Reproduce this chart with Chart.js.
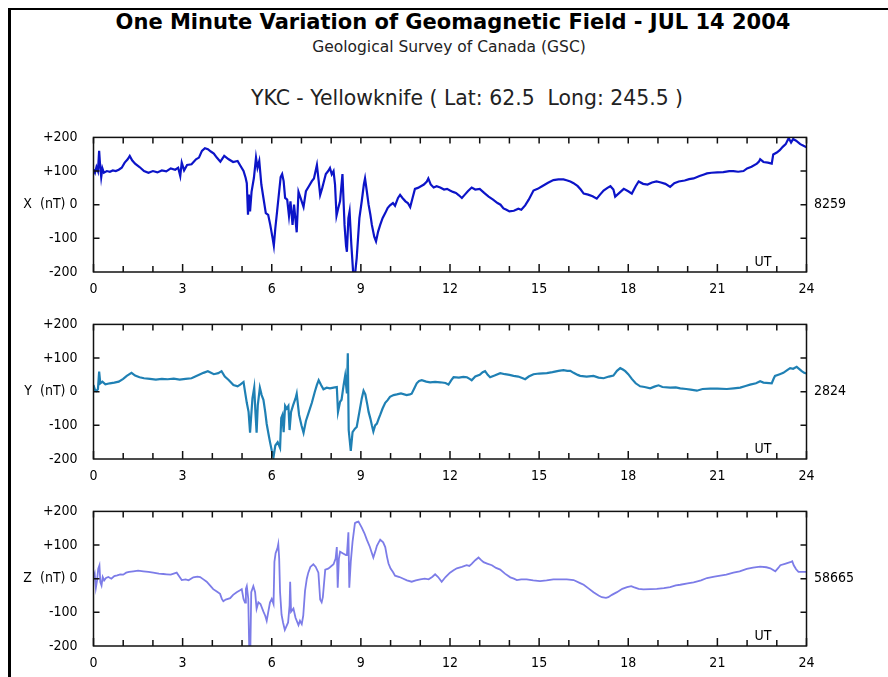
<!DOCTYPE html>
<html>
<head>
<meta charset="utf-8">
<script src="https://cdn.jsdelivr.net/npm/chart.js@4/dist/chart.umd.min.js"></script>
<style>
  html, body { margin: 0; padding: 0; background: #fff; }
  body { width: 888px; height: 677px; position: relative; overflow: hidden; font-family: "DejaVu Sans", sans-serif; }
  .frame { position: absolute; left: 8px; top: 8px; right: -10px; bottom: -10px; border-left: 3px solid #000; border-top: 2.5px solid #000; }
  .txt { position: absolute; white-space: nowrap; transform: translateX(-50%); color: #111; }
  #title { left: 453px; top: 10px; font-size: 21px; font-weight: bold; color: #000; }
  #agency { left: 449px; top: 38px; font-size: 15.5px; color: #222; }
  #station { left: 467px; top: 86px; font-size: 20.4px; color: #222; }
  canvas { position: absolute; left: 0; }
</style>
</head>
<body>
<div class="frame"></div>
<div class="txt" id="title">One Minute Variation of Geomagnetic Field - JUL 14 2004</div>
<div class="txt" id="agency">Geological Survey of Canada (GSC)</div>
<div class="txt" id="station">YKC - Yellowknife ( Lat: 62.5&nbsp; Long: 245.5 )</div>
<canvas id="panelX" width="888" height="189" style="top:113px"></canvas>
<canvas id="panelY" width="888" height="189" style="top:300px"></canvas>
<canvas id="panelZ" width="888" height="189" style="top:487px"></canvas>
<script>
// Hour labels along the UT axis
const hourTicks = [0, 3, 6, 9, 12, 15, 18, 21, 24];

// Baseline field values (nT) printed on the right of each panel
const baselines = { X: '8259', Y: '2824', Z: '58665' };

// X component: time (UT hours) and deviation from baseline (nT)
const xHours = [0.00,0.05,0.10,0.15,0.19,0.22,0.26,0.30,0.35,0.45,0.55,0.65,0.75,0.85,0.95,1.05,1.15,1.22,1.30,1.40,1.55,1.70,1.85,2.00,2.15,2.30,2.45,2.60,2.75,2.85,2.92,2.97,3.05,3.15,3.30,3.45,3.55,3.65,3.75,3.85,3.95,4.05,4.15,4.27,4.40,4.55,4.70,4.85,4.95,5.05,5.12,5.16,5.20,5.23,5.27,5.32,5.40,5.47,5.52,5.58,5.65,5.72,5.80,5.88,5.95,6.03,6.07,6.12,6.18,6.25,6.30,6.35,6.40,6.45,6.52,6.58,6.63,6.70,6.75,6.84,6.90,6.97,7.07,7.15,7.25,7.35,7.42,7.52,7.58,7.63,7.70,7.74,7.82,7.90,7.96,8.02,8.08,8.13,8.18,8.24,8.30,8.38,8.45,8.50,8.53,8.58,8.62,8.68,8.75,8.80,8.86,8.95,9.03,9.10,9.14,9.20,9.26,9.32,9.37,9.45,9.51,9.58,9.65,9.73,9.82,9.90,9.98,10.08,10.15,10.25,10.32,10.40,10.50,10.58,10.66,10.74,10.82,10.92,11.02,11.12,11.22,11.27,11.35,11.45,11.55,11.67,11.80,11.90,12.00,12.10,12.20,12.30,12.40,12.50,12.60,12.73,12.85,13.00,13.15,13.30,13.45,13.60,13.70,13.80,13.90,14.00,14.15,14.30,14.40,14.53,14.65,14.81,14.95,15.10,15.30,15.48,15.65,15.82,15.95,16.05,16.16,16.30,16.40,16.50,16.65,16.80,16.94,17.05,17.17,17.30,17.40,17.50,17.56,17.70,17.85,18.00,18.12,18.25,18.35,18.50,18.65,18.80,18.95,19.10,19.25,19.41,19.55,19.70,19.90,20.05,20.20,20.40,20.55,20.65,20.80,21.00,21.20,21.40,21.54,21.70,21.88,22.00,22.15,22.33,22.40,22.44,22.55,22.70,22.83,22.88,23.00,23.10,23.20,23.30,23.40,23.48,23.55,23.65,23.79,23.90,24.00];
const xField = [105,95,112,100,160,120,82,108,95,100,98,102,100,104,110,125,135,145,132,122,112,100,95,100,96,102,99,108,104,110,85,125,102,118,120,135,140,160,168,165,158,152,140,128,145,135,127,130,115,100,80,64,-30,30,-20,38,80,140,110,130,60,20,-25,-30,-60,-100,-122,-70,-20,40,82,91,70,20,15,-33,10,-60,0,-82,38,20,-7,40,55,70,78,118,70,29,50,64,91,100,109,90,100,60,-33,-10,11,91,-60,-122,-140,-40,-20,-120,-215,-210,-158,-40,11,60,78,40,0,-30,-60,-95,-109,-80,-60,-40,-25,-10,-2,5,-3,20,29,20,10,5,-7,20,47,50,55,60,69,78,60,51,55,51,45,47,42,38,35,28,20,30,40,51,45,47,35,24,15,5,0,-11,-15,-20,-18,-12,-15,-2,15,42,47,55,65,73,75,75,72,69,64,55,45,33,30,25,18,30,42,50,55,45,24,35,47,40,33,55,69,62,60,66,69,66,62,53,64,69,72,76,78,85,90,93,95,96,97,100,100,98,100,108,113,122,128,135,127,125,122,149,155,162,172,180,198,185,195,190,180,175,171];

// Y component: time (UT hours) and deviation from baseline (nT)
const yHours = [0.00,0.05,0.10,0.15,0.19,0.23,0.30,0.40,0.55,0.70,0.85,1.00,1.12,1.28,1.40,1.55,1.70,1.90,2.10,2.30,2.50,2.70,2.90,3.10,3.30,3.50,3.70,3.85,3.92,4.05,4.20,4.31,4.42,4.55,4.71,4.85,4.95,5.05,5.10,5.16,5.22,5.27,5.31,5.35,5.41,5.45,5.49,5.53,5.60,5.66,5.72,5.78,5.83,5.90,5.94,6.00,6.06,6.12,6.20,6.28,6.32,6.36,6.40,6.45,6.50,6.56,6.60,6.65,6.72,6.80,6.84,6.92,7.00,7.07,7.15,7.25,7.35,7.45,7.52,7.58,7.66,7.74,7.85,7.96,8.08,8.19,8.23,8.30,8.35,8.42,8.47,8.53,8.56,8.59,8.66,8.72,8.80,8.86,8.95,9.03,9.09,9.15,9.22,9.26,9.32,9.37,9.42,9.48,9.54,9.60,9.65,9.73,9.82,9.90,9.98,10.10,10.21,10.35,10.54,10.65,10.71,10.80,10.88,10.96,11.05,11.20,11.33,11.50,11.67,11.85,11.95,12.05,12.12,12.30,12.45,12.57,12.66,12.73,12.85,13.00,13.10,13.18,13.27,13.35,13.50,13.69,13.85,14.00,14.14,14.30,14.45,14.53,14.65,14.81,15.00,15.26,15.45,15.65,15.82,15.95,16.05,16.16,16.30,16.38,16.60,16.83,17.00,17.17,17.35,17.50,17.62,17.73,17.82,17.90,18.00,18.12,18.25,18.40,18.55,18.74,18.88,19.02,19.15,19.41,19.60,19.75,19.95,20.10,20.31,20.50,20.76,21.00,21.32,21.55,21.77,21.95,22.10,22.30,22.44,22.55,22.83,22.90,22.94,23.10,23.22,23.35,23.45,23.55,23.67,23.75,23.84,23.92,24.00];
const yField = [20,5,2,8,60,25,30,22,25,27,30,38,47,56,48,43,40,38,36,38,37,39,36,38,40,48,56,61,58,52,55,61,45,35,20,16,22,29,0,-33,-60,-122,-70,-20,12,-60,-122,-40,12,-10,-24,-60,-96,-130,-149,-175,-194,-160,-150,-167,-78,-69,-120,-42,-50,-42,-114,-60,-40,-20,-6,-69,-100,-122,-87,-60,-33,0,20,34,20,7,12,10,12,14,-60,-30,-24,20,47,-5,114,-114,-176,-120,-110,-105,-60,-20,3,-8,-40,-60,-80,-100,-118,-100,-95,-80,-69,-50,-33,-25,-15,-10,-8,-5,-10,-8,-6,10,25,32,34,30,28,29,28,26,21,35,43,42,44,43,38,34,45,50,58,61,50,43,48,55,52,50,47,45,40,37,45,52,54,55,58,62,64,62,62,56,50,47,45,47,42,40,45,48,62,70,66,61,52,38,25,16,14,10,15,19,14,12,13,10,8,6,3,8,9,9,8,10,12,17,21,25,31,27,25,40,47,52,56,64,70,68,74,68,61,56,54];

// Z component: time (UT hours) and deviation from baseline (nT)
const zHours = [0.00,0.04,0.08,0.12,0.16,0.20,0.23,0.27,0.31,0.36,0.42,0.50,0.60,0.70,0.80,0.90,1.00,1.10,1.20,1.34,1.50,1.68,1.85,2.01,2.20,2.35,2.46,2.60,2.70,2.80,2.90,2.97,3.10,3.20,3.36,3.50,3.59,3.70,3.81,3.92,4.03,4.15,4.26,4.32,4.37,4.45,4.60,4.70,4.82,4.92,4.99,5.05,5.10,5.13,5.16,5.21,5.24,5.28,5.31,5.38,5.44,5.49,5.55,5.62,5.72,5.78,5.83,5.88,5.94,6.00,6.06,6.09,6.13,6.19,6.22,6.25,6.28,6.33,6.38,6.44,6.50,6.55,6.60,6.62,6.65,6.73,6.80,6.90,6.95,7.01,7.06,7.12,7.18,7.23,7.30,7.40,7.48,7.57,7.63,7.68,7.72,7.80,7.90,7.96,8.08,8.15,8.19,8.22,8.26,8.30,8.40,8.50,8.53,8.58,8.61,8.66,8.72,8.80,8.86,8.92,9.03,9.12,9.20,9.30,9.42,9.50,9.54,9.65,9.75,9.82,9.88,9.93,10.00,10.08,10.15,10.30,10.43,10.55,10.71,10.85,11.00,11.15,11.28,11.40,11.50,11.60,11.72,11.85,12.00,12.12,12.23,12.40,12.56,12.65,12.73,12.85,12.96,13.05,13.13,13.25,13.41,13.55,13.69,13.85,14.03,14.15,14.25,14.40,14.58,14.80,15.03,15.25,15.48,15.70,15.93,16.16,16.38,16.50,16.65,16.83,17.00,17.11,17.25,17.33,17.45,17.62,17.80,17.96,18.10,18.18,18.35,18.51,18.75,18.96,19.20,19.41,19.60,19.75,20.00,20.20,20.45,20.65,20.90,21.10,21.30,21.54,21.75,21.99,22.20,22.44,22.65,22.78,22.95,23.05,23.12,23.30,23.45,23.52,23.57,23.65,23.73,23.85,24.00];
const zField = [4,15,-27,-5,30,40,-10,-20,5,-5,2,5,0,8,10,13,12,18,20,22,24,22,20,18,15,14,13,12,15,18,5,-4,-2,-5,4,6,5,-2,-9,-20,-31,-38,-45,-60,-67,-62,-58,-48,-40,-35,-31,-60,-71,-30,-22,-60,-200,-210,-40,-22,-40,-89,-70,-75,-98,-110,-125,-100,-71,-60,-75,50,76,90,103,60,-40,-107,-130,-152,-140,-130,-80,-9,-98,-89,-116,-138,-125,-135,-110,-36,0,18,35,43,35,18,-62,-70,-55,27,30,34,43,60,94,-27,60,80,75,70,71,138,-27,50,110,165,168,170,152,135,116,95,63,85,98,116,108,94,65,45,30,20,9,5,0,-5,-9,-5,-2,0,-2,5,13,5,-9,5,18,25,31,35,40,38,44,55,63,55,49,45,40,32,27,15,4,0,-4,-2,-2,-5,-7,-5,-2,-2,-2,-4,-13,-18,-28,-40,-50,-55,-57,-55,-48,-40,-30,-25,-22,-25,-30,-32,-31,-30,-28,-25,-20,-18,-14,-11,-5,2,6,9,12,18,22,29,33,36,34,31,22,32,40,45,49,52,40,28,20,20,20];

const tickFont = { family: '"DejaVu Sans Condensed", "DejaVu Sans", sans-serif', size: 14 };

// Plot frame, inward tick marks and the "UT" tag
const framePlugin = {
  id: 'frame',
  afterDraw(chart) {
    const { ctx, chartArea: a, scales } = chart;
    const sx = scales.x, sy = scales.y;
    ctx.save();
    ctx.strokeStyle = '#111';
    ctx.lineWidth = 1.5;
    ctx.strokeRect(a.left, a.top, a.right - a.left, a.bottom - a.top);
    ctx.beginPath();
    for (let h = 0; h <= 24; h++) {
      const px = sx.getPixelForValue(h);
      const lb = h % 3 === 0 ? 8 : 6;
      ctx.moveTo(px, a.top); ctx.lineTo(px, a.top + 6);
      ctx.moveTo(px, a.bottom); ctx.lineTo(px, a.bottom - lb);
    }
    for (const v of [-100, 0, 100]) {
      const py = sy.getPixelForValue(v);
      ctx.moveTo(a.left, py); ctx.lineTo(a.left + 6, py);
      ctx.moveTo(a.right, py); ctx.lineTo(a.right - 6, py);
    }
    ctx.stroke();
    ctx.fillStyle = '#000';
    ctx.font = '14px "DejaVu Sans Condensed", "DejaVu Sans", sans-serif';
    ctx.textAlign = 'center';
    ctx.textBaseline = 'middle';
    ctx.fillText('UT', a.right - 43.5, a.bottom - 10);
    ctx.restore();
  }
};

function makePanel(id, comp, hours, values, color, lineWidth) {
  const points = hours.map((h, i) => ({ x: h, y: values[i] }));
  return new Chart(document.getElementById(id), {
    type: 'line',
    data: { datasets: [{ data: points, borderColor: color, borderWidth: lineWidth, pointRadius: 0, tension: 0, fill: false }] },
    options: {
      responsive: false,
      animation: false,
      layout: { padding: { top: 10, left: 0, right: 0, bottom: 0 } },
      plugins: { legend: { display: false }, tooltip: { enabled: false } },
      scales: {
        x: {
          type: 'linear', min: 0, max: 24, position: 'bottom',
          afterFit: s => { s.height = 30; },
          grid: { display: false, drawTicks: false }, border: { display: false },
          ticks: { stepSize: 1, autoSkip: false, maxRotation: 0, padding: 9, color: '#000', font: tickFont,
                   callback: v => hourTicks.includes(v) ? String(v) : '' }
        },
        y: {
          min: -200, max: 200, position: 'left',
          afterFit: s => { s.width = 93.5; },
          grid: { display: false, drawTicks: false }, border: { display: false },
          ticks: { stepSize: 100, padding: 16, color: '#000', font: tickFont,
                   callback: v => v === 0 ? comp + '  (nT) 0' : (v > 0 ? '+' + v : String(v)) }
        },
        y2: {
          min: -200, max: 200, position: 'right',
          afterFit: s => { s.width = 81.5; },
          grid: { display: false, drawTicks: false }, border: { display: false },
          ticks: { stepSize: 100, padding: 7.5, color: '#000', font: tickFont,
                   callback: v => v === 0 ? baselines[comp] : '' }
        }
      }
    },
    plugins: [framePlugin]
  });
}

makePanel('panelX', 'X', xHours, xField, '#0c14c8', 2.2);
makePanel('panelY', 'Y', yHours, yField, '#1f80b4', 2.2);
makePanel('panelZ', 'Z', zHours, zField, '#7c7ce8', 1.8);
</script>
</body>
</html>
